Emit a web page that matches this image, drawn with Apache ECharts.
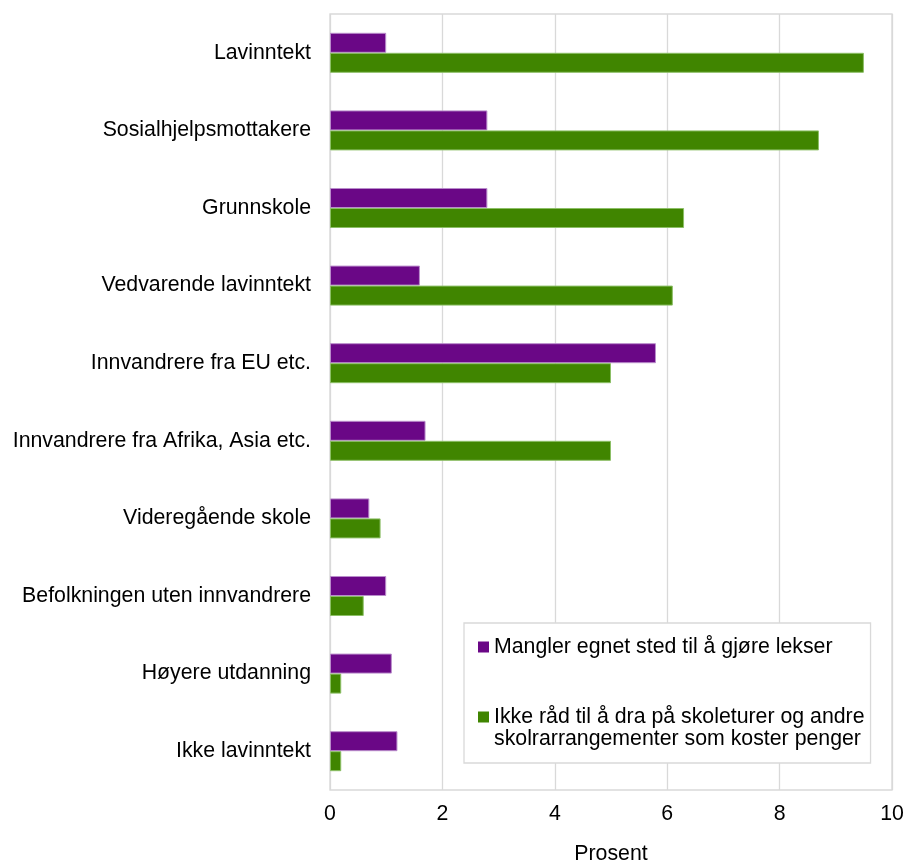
<!DOCTYPE html>
<html>
<head>
<meta charset="utf-8">
<script src="https://cdn.jsdelivr.net/npm/echarts@6/dist/echarts.min.js"></script>
<style>
html,body{margin:0;padding:0;background:#fff;overflow:hidden;}
#chart{width:906px;height:863px;}
</style>
</head>
<body>
<div id="chart"></div>
<script>
const categories = [
  'Lavinntekt',
  'Sosialhjelpsmottakere',
  'Grunnskole',
  'Vedvarende lavinntekt',
  'Innvandrere fra EU etc.',
  'Innvandrere fra Afrika, Asia etc.',
  'Videregående skole',
  'Befolkningen uten innvandrere',
  'Høyere utdanning',
  'Ikke lavinntekt'
];
const seriesNames = [
  'Mangler egnet sted til å gjøre lekser',
  'Ikke råd til å dra på skoleturer og andre\nskolrarrangementer som koster penger'
];
const manglerSted = [1.0, 2.8, 2.8, 1.6, 5.8, 1.7, 0.7, 1.0, 1.1, 1.2];
const ikkeRad = [9.5, 8.7, 6.3, 6.1, 5.0, 5.0, 0.9, 0.6, 0.2, 0.2];
const xTicks = [0, 2, 4, 6, 8, 10];
const xAxisName = 'Prosent';

const FONT = "'Liberation Sans', Arial, sans-serif";
const FS = 21.3;
const el = document.getElementById('chart');
const chart = echarts.init(el, null, {renderer: 'canvas'});

chart.setOption({
  animation: false,
  backgroundColor: '#ffffff',
  textStyle: {fontFamily: FONT, color: '#000'},
  grid: {
    left: 330, right: 14, top: 14, bottom: 73,
    show: true, borderColor: '#d9d9d9', borderWidth: 1.3,
    containLabel: false,
    outerBoundsMode: 'none'
  },
  legend: {
    orient: 'vertical',
    left: 464, top: 623,
    padding: [13, 6, 13, 14],
    itemGap: 26,
    itemWidth: 11, itemHeight: 11,
    backgroundColor: '#ffffff',
    borderColor: '#d9d9d9', borderWidth: 1.3,
    icon: 'rect',
    itemStyle: {borderWidth: 0},
    selectedMode: false,
    formatter: function (name) {
      return name.indexOf('\n') >= 0 ? ' \n' + name : name;
    },
    textStyle: {fontFamily: FONT, fontSize: FS, color: '#000', lineHeight: 22},
    data: [seriesNames[0], seriesNames[1]]
  },
  xAxis: {
    type: 'value',
    min: xTicks[0], max: xTicks[xTicks.length - 1], interval: 2,
    name: xAxisName,
    nameLocation: 'middle',
    nameGap: 54,
    nameTextStyle: {fontFamily: FONT, fontSize: FS, color: '#000'},
    axisLine: {show: false},
    axisTick: {show: false},
    axisLabel: {fontFamily: FONT, fontSize: FS, color: '#000', margin: 14},
    splitLine: {show: true, lineStyle: {color: '#d9d9d9', width: 1.3}}
  },
  yAxis: {
    type: 'category',
    inverse: true,
    data: categories,
    axisLine: {show: false},
    axisTick: {show: false},
    axisLabel: {fontFamily: FONT, fontSize: FS, color: '#000', margin: 19},
    splitLine: {show: false}
  },
  series: [
    {
      name: seriesNames[0],
      type: 'bar',
      data: manglerSted,
      barWidth: 20,
      barGap: '0%',
      itemStyle: {color: '#6a0786', borderColor: '#b98ccb', borderWidth: 1}
    },
    {
      name: seriesNames[1],
      type: 'bar',
      data: ikkeRad,
      barWidth: 20,
      barGap: '0%',
      itemStyle: {color: '#408500', borderColor: '#8cbf66', borderWidth: 1}
    }
  ]
});
</script>
</body>
</html>
